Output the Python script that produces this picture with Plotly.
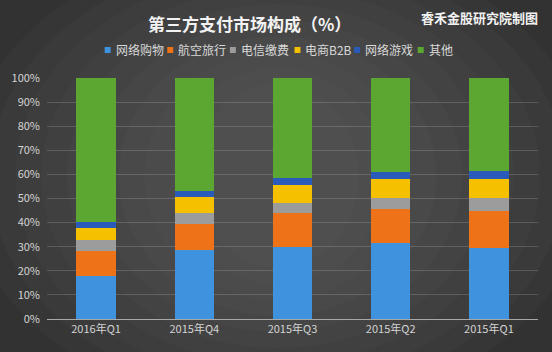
import plotly.graph_objects as go

categories = ["2016年Q1", "2015年Q4", "2015年Q3", "2015年Q2", "2015年Q1"]
series_names = ["网络购物", "航空旅行", "电信缴费", "电商B2B", "网络游戏", "其他"]
online_shopping = [0.180, 0.286, 0.300, 0.317, 0.296]
air_travel = [0.103, 0.108, 0.139, 0.141, 0.153]
telecom = [0.045, 0.045, 0.041, 0.043, 0.052]
b2b = [0.050, 0.069, 0.076, 0.081, 0.081]
online_games = [0.024, 0.025, 0.029, 0.028, 0.032]
others = [0.598, 0.467, 0.415, 0.390, 0.386]
tick_vals = [0, 0.1, 0.2, 0.3, 0.4, 0.5, 0.6, 0.7, 0.8, 0.9, 1.0]
tick_text = ["0%", "10%", "20%", "30%", "40%", "50%", "60%", "70%", "80%", "90%", "100%"]

series_values = [online_shopping, air_travel, telecom, b2b, online_games, others]
colors = ["#3f93de", "#ee7218", "#9c9c9c", "#f4c000", "#2a5bbb", "#5ca632"]

W, H = 552, 352
L, R, T, B = 44, 14, 78, 33
PW, PH = W - L - R, H - T - B


def px(x):
    return (x - L) / PW


def py(y):
    return (H - B - y) / PH


FONT = "Noto Sans CJK SC"

fig = go.Figure()
for name, vals, col in zip(series_names, series_values, colors):
    fig.add_trace(go.Bar(
        x=categories, y=vals, name=name,
        marker=dict(color=col, line=dict(width=0)),
        showlegend=False,
    ))

shapes = []
# radial-ish background gradient
steps = 10
for i in range(steps):
    f = i / steps
    x0, x1 = -40 + f * 260, W + 40 - f * 260
    y0, y1 = -60 + f * 160, H + 60 - f * 160
    shapes.append(dict(
        type="circle", xref="paper", yref="paper", layer="below",
        x0=px(x0), x1=px(x1), y0=py(y1), y1=py(y0),
        fillcolor="rgba(110,110,110,0.07)", line=dict(width=0),
    ))

annotations = []
# custom legend
legend_sq_x = [102, 165, 228, 293, 353, 417]
for name, col, sx in zip(series_names, colors, legend_sq_x):
    shapes.append(dict(
        type="rect", xref="paper", yref="paper",
        x0=px(sx), x1=px(sx + 6), y0=py(53), y1=py(47),
        fillcolor=col, line=dict(width=0),
    ))
    annotations.append(dict(
        text=name, xref="paper", yref="paper", x=px(sx + 9), y=py(50),
        xanchor="left", yanchor="middle", showarrow=False,
        font=dict(family=FONT, size=12, color="#d8d8d8"),
    ))

annotations.append(dict(
    text="<b>第三方支付市场构成（%）</b>", xref="paper", yref="paper",
    x=px(248), y=py(24), xanchor="center", yanchor="middle", showarrow=False,
    font=dict(family=FONT, size=17, color="#f2f2f2"),
))
annotations.append(dict(
    text="<b>睿禾金股研究院制图</b>", xref="paper", yref="paper",
    x=px(540), y=py(17), xanchor="right", yanchor="middle", showarrow=False,
    font=dict(family=FONT, size=13, color="#f2f2f2"),
))

fig.update_layout(
    width=W, height=H,
    margin=dict(l=L, r=R, t=T, b=B, pad=0),
    barmode="stack", bargap=0.6,
    paper_bgcolor="#323232", plot_bgcolor="rgba(0,0,0,0)",
    font=dict(family=FONT, size=11, color="#d4d4d4"),
    shapes=shapes, annotations=annotations,
    xaxis=dict(showgrid=False, showline=True, linecolor="#a8a8a8", linewidth=1,
               ticks="", tickfont=dict(size=11, color="#d4d4d4"), fixedrange=True),
    yaxis=dict(range=[0, 1], tickvals=tick_vals, ticktext=tick_text,
               showgrid=True, gridcolor="rgba(255,255,255,0.16)", gridwidth=1,
               zeroline=False, showline=False, ticks="", ticklabelstandoff=6,
               tickfont=dict(size=11, color="#d4d4d4"), fixedrange=True),
)

fig.write_html("out.html")
